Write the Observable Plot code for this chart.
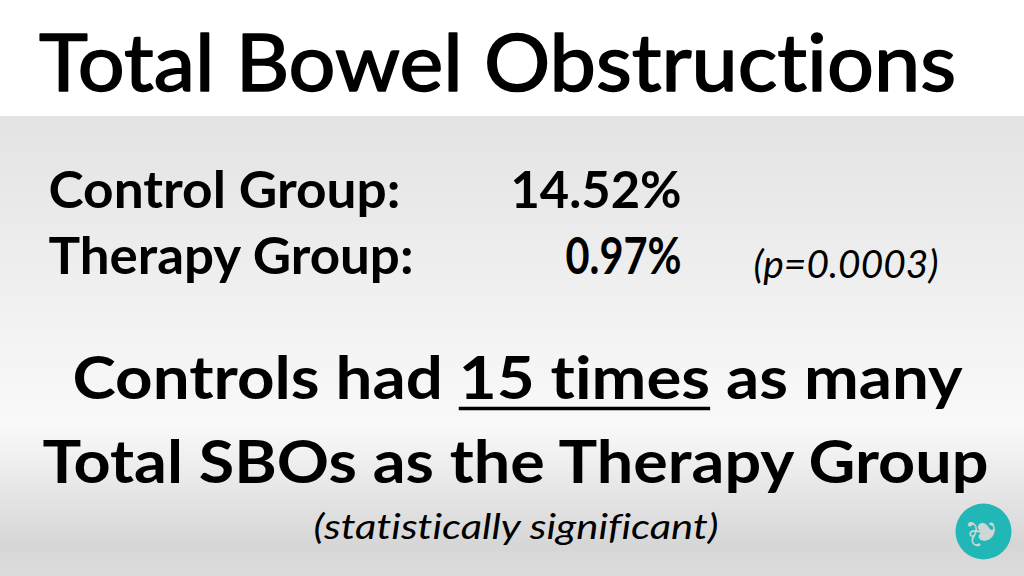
<!DOCTYPE html>
<html>
<head>
<meta charset="utf-8">
<script src="https://cdn.jsdelivr.net/npm/d3@7"></script>
<script src="https://cdn.jsdelivr.net/npm/@observablehq/plot@0.6"></script>
<style>
  html, body { margin: 0; padding: 0; width: 1024px; height: 576px; overflow: hidden; background: #fff; }
  #chart svg { display: block; font-variant-ligatures: none; }
  #chart svg text { font-variant-ligatures: none; font-feature-settings: "liga" 0, "clig" 0; }
</style>
</head>
<body>
<div id="chart"></div>
<script>
// ---- data ----
const title = "Total Bowel Obstructions";
const groups = ["Control Group:", "Therapy Group:"];
const rates = [14.52, 0.97];
const pValue = "0.0003";
const ratio = 15;
const statementLine1 = ["Controls had ", `${ratio} times`, " as many"];
const statementLine2 = "Total SBOs as the Therapy Group";
const note = "(statistically significant)";

const rows = groups.map((g, i) => ({group: g, rate: rates[i]}));

const bodyFont = "Lato, Carlito, 'Open Sans', sans-serif";
const titleFont = "'Century Gothic', 'URW Gothic', Lato, sans-serif";

const chart = Plot.plot({
  width: 1024,
  height: 576,
  margin: 0,
  x: {axis: null},
  y: {type: "point", domain: groups, range: [207, 273], padding: 0, axis: null},
  style: {
    background: "linear-gradient(to bottom, #ffffff 0px, #ffffff 116px, #e3e3e3 116px, #f9f9f9 425px, #d6d6d6 545px, #dcdcdc 576px)",
    color: "#000",
    overflow: "visible"
  },
  marks: [
    Plot.text([title], {text: d => d, frameAnchor: "top", dx: -15, dy: 90, lineAnchor: "bottom",
      fontSize: 80, fontWeight: 400, fontFamily: titleFont, fill: "#000", stroke: "#000", strokeWidth: 1.6,
      ariaLabel: () => "title"}),
    Plot.text(rows, {y: "group", text: "group", frameAnchor: "left", dx: 48, lineAnchor: "bottom",
      textAnchor: "start", fontSize: 51, fontWeight: 700, fontFamily: bodyFont, fill: "#000", ariaLabel: () => "labels"}),
    Plot.text(rows, {y: "group", text: d => d.rate.toFixed(2) + "%", frameAnchor: "left", dx: 681, lineAnchor: "bottom",
      textAnchor: "end", fontSize: 51, fontWeight: 700, fontFamily: bodyFont, fill: "#000", ariaLabel: () => "values"}),
    Plot.text([pValue], {y: () => groups[1], text: d => `(p=${d})`, frameAnchor: "left", dx: 753, dy: 4, lineAnchor: "bottom",
      textAnchor: "start", fontSize: 38, fontStyle: "italic", fontFamily: bodyFont, fill: "#000", ariaLabel: () => "pvalue"}),
    Plot.text([statementLine1.join("")], {text: d => d, frameAnchor: "top", dx: 5, dy: 398, lineAnchor: "bottom",
      fontSize: 59, fontWeight: 700, fontFamily: bodyFont, fill: "#000", ariaLabel: () => "line1"}),
    Plot.text([statementLine2], {text: d => d, frameAnchor: "top", dx: 3, dy: 482, lineAnchor: "bottom",
      fontSize: 59, fontWeight: 700, fontFamily: bodyFont, fill: "#000", ariaLabel: () => "line2"}),
    Plot.text([note], {text: d => d, frameAnchor: "top", dx: 3.5, dy: 538, lineAnchor: "bottom",
      fontSize: 35, fontStyle: "italic", fontFamily: bodyFont, fill: "#000", ariaLabel: () => "note"}),
    // logo: teal disc with a light grey figure
    Plot.dot([0], {frameAnchor: "bottom-right", dx: -41, dy: -45, r: 28, fill: "#22b7b7", stroke: "none"}),
    Plot.text(["\u2766"], {text: d => d, frameAnchor: "bottom-right", dx: -41, dy: -45, fontSize: 38,
      fontFamily: "'DejaVu Sans', sans-serif", fill: "#cfd6d6", rotate: -100, textAnchor: "middle", lineAnchor: "middle"})
  ]
});

document.getElementById("chart").appendChild(chart);

// fit text widths to the reference's text widths
const svg = d3.select(chart);
function fit(label, widths) {
  svg.selectAll(`text[aria-label="${label}"]`).each(function(d, i) {
    const w = Array.isArray(widths) ? widths[i] : widths;
    d3.select(this).attr("textLength", w).attr("lengthAdjust", "spacingAndGlyphs");
  });
}
fit("title", 917);
fit("labels", [352, 365]);
fit("values", [171, 116]);
fit("pvalue", 185);
fit("line2", 946);
fit("note", 405);

// line 1 with the ratio underlined (underline placed from the text's own glyph positions)
svg.selectAll('text[aria-label="line1"]').each(function() {
  const node = this;
  const t = d3.select(node);
  t.attr("textLength", 890).attr("lengthAdjust", "spacingAndGlyphs").style("white-space", "pre");
  const start = statementLine1[0].length;
  const end = start + statementLine1[1].length - 1;
  const p0 = node.getStartPositionOfChar(start);
  const p1 = node.getEndPositionOfChar(end);
  const ctm = node.getCTM();
  const bb = node.getBBox();
  d3.select(node.parentNode).append("line")
    .attr("x1", p0.x).attr("x2", p1.x)
    .attr("y1", p0.y + 10).attr("y2", p0.y + 10)
    .attr("stroke", "#000").attr("stroke-width", 3.5)
    .attr("transform", t.attr("transform"));
});
</script>
</body>
</html>
